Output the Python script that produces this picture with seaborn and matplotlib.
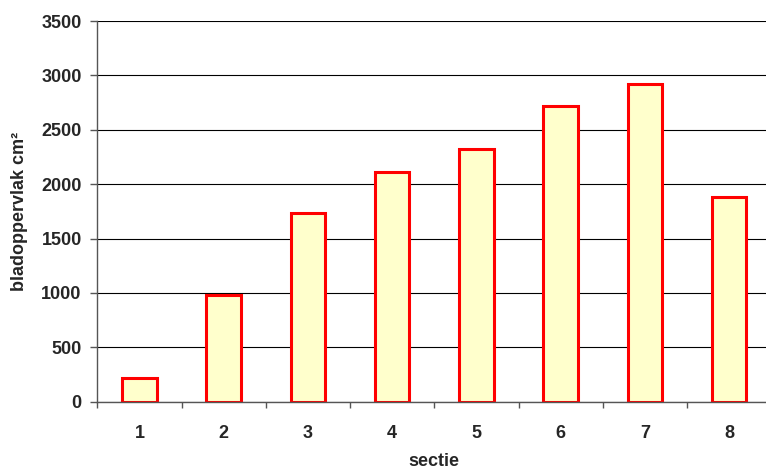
import numpy as np
import pandas as pd
import seaborn as sns
from matplotlib import pyplot as plt
from matplotlib.ticker import FixedLocator

sectie = ['1', '2', '3', '4', '5', '6', '7', '8']
bladoppervlak = [215, 978, 1732, 2110, 2323, 2718, 2921, 1882]

df = pd.DataFrame({'sectie': sectie, 'bladoppervlak': bladoppervlak})

sns.set_style('white')
plt.rcParams['font.family'] = ['Liberation Sans', 'DejaVu Sans']
plt.rcParams['font.weight'] = 'bold'

fig = plt.figure(figsize=(7.66, 4.70), dpi=100)
ax = fig.add_axes([97.3 / 766, 68.3 / 470, 674 / 766, 380.7 / 470])

sns.barplot(data=df, x='sectie', y='bladoppervlak', color='#FFFFCC',
            edgecolor='#FF0000', linewidth=2.2, width=0.41, saturation=1, ax=ax)

ax.set_ylim(0, 3500)
ax.set_xlim(-0.5, len(sectie) - 0.5)
ax.set_yticks(np.arange(0, 3501, 500))
ax.yaxis.grid(True, color='black', linewidth=0.8)
ax.set_axisbelow(True)

for s in ['top', 'right']:
    ax.spines[s].set_visible(False)
for s in ['left', 'bottom']:
    ax.spines[s].set_color('#555555')
    ax.spines[s].set_linewidth(1.0)

ax.tick_params(axis='y', left=True, length=4.7, width=1, color='#555555',
               pad=6.5, labelsize=13)
ax.tick_params(axis='x', which='major', bottom=True, length=0, pad=16.5, labelsize=13)
ax.xaxis.set_minor_locator(FixedLocator(np.arange(-0.5, len(sectie), 1)))
ax.tick_params(axis='x', which='minor', bottom=True, length=4.5, width=1, color='#555555')

ax.set_xlabel('sectie', fontsize=13, fontweight='bold')
ax.set_ylabel('bladoppervlak cm²', fontsize=13, fontweight='bold')
ax.xaxis.set_label_coords(0.5, -0.158)
ax.xaxis.label.set_va('center')
ax.yaxis.set_label_coords(-0.115, 0.5)
ax.yaxis.label.set_va('center')

plt.savefig('out.png', dpi=100)
